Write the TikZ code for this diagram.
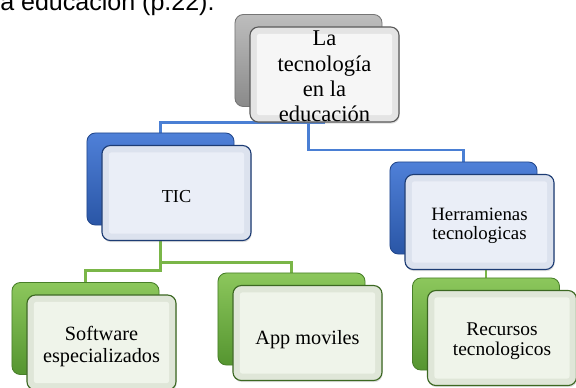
\documentclass[tikz,border=0pt]{standalone}
\usepackage{fontspec}
\setmainfont{Liberation Serif}
\newfontfamily\captionfont{Liberation Sans}
\usepackage{tikz}
\usetikzlibrary{backgrounds,shadows}

\definecolor{grayhi}{HTML}{BDBDBD}
\definecolor{graylo}{HTML}{8A8A8A}
\definecolor{bluehi}{HTML}{4F80D8}
\definecolor{bluelo}{HTML}{2A56A6}
\definecolor{greenhi}{HTML}{8CC75C}
\definecolor{greenlo}{HTML}{559530}
\definecolor{bluewire}{HTML}{4A7FD4}
\definecolor{greenwire}{HTML}{7AB648}
\definecolor{grayband}{HTML}{E4E4E4}
\definecolor{grayface}{HTML}{F6F6F6}
\definecolor{blueband}{HTML}{DCE2EE}
\definecolor{blueface}{HTML}{EAEEF7}
\definecolor{greenband}{HTML}{DFE6D8}
\definecolor{greenface}{HTML}{EFF4EA}

\begin{document}
\begin{tikzpicture}[x=0.025cm, y=-0.025cm,
  backbox/.style 2 args={rounded corners=6pt, minimum width=3.675cm, minimum height=2.3cm,
    top color=#1, bottom color=#2, draw=#2!85!black, line width=0.6pt},
  frontbox/.style n args={3}{rounded corners=6pt, minimum width=3.725cm, minimum height=2.375cm,
    inner sep=0pt, fill=#1, draw=#3, line width=0.8pt,
    drop shadow={opacity=0.25, shadow xshift=0.5pt, shadow yshift=-1.2pt},
    path picture={\fill[#2, rounded corners=2pt]
      ([shift={(0.17cm,-0.17cm)}]path picture bounding box.north west) rectangle
      ([shift={(-0.17cm,0.17cm)}]path picture bounding box.south east);}},
  grayback/.style={backbox={grayhi}{graylo}},
  blueback/.style={backbox={bluehi}{bluelo}},
  greenback/.style={backbox={greenhi}{greenlo}},
  grayfront/.style={frontbox={grayband}{grayface}{gray!70!black}},
  bluefront/.style={frontbox={blueband}{blueface}{bluelo!70!black}},
  greenfront/.style={frontbox={greenband}{greenface}{greenlo!70!black}},
  boxtext/.style={align=center, inner sep=0pt},
  bluelink/.style={draw=bluewire, line width=1.8pt},
  greenlink/.style={draw=greenwire, line width=1.8pt},
]
  \path[use as bounding box, clip] (0,0) rectangle (576,387);

  \node[anchor=base west, inner sep=0pt, font=\captionfont\fontsize{17.8}{20}\selectfont] (caption) at (0,11) {a educación (p.22).};

  % root
  \node[grayback] (root-b) at (308.5,60.5) {};
  \node[grayfront] (root) at ([shift={(16,14)}]root-b) {};
  \node[boxtext, font=\fontsize{16}{18}\selectfont] (root-t) at ([shift={(0,2)}]root) {La\\tecnología\\en la\\educación};

  % second level
  \node[blueback] (tic-b) at (160.5,179) {};
  \node[bluefront] (tic) at ([shift={(16,14)}]tic-b) {};
  \node[boxtext, font=\fontsize{13}{15}\selectfont] (tic-t) at ([shift={(0,4)}]tic) {TIC};
  \node[blueback] (herr-b) at (463.5,208) {};
  \node[bluefront] (herr) at ([shift={(16,14)}]herr-b) {};
  \node[boxtext, font=\fontsize{13.4}{13.8}\selectfont] (herr-t) at ([shift={(0,4)}]herr) {Herramienas\\tecnologicas};

  % third level
  \node[greenback] (soft-b) at (85.5,328.5) {};
  \node[greenfront] (soft) at ([shift={(16,14)}]soft-b) {};
  \node[boxtext, font=\fontsize{14.4}{16.3}\selectfont] (soft-t) at ([shift={(0,4)}]soft) {Software\\especializados};
  \node[greenback] (app-b) at (291.5,319) {};
  \node[greenfront] (app) at ([shift={(16,14)}]app-b) {};
  \node[boxtext, font=\fontsize{14.4}{16}\selectfont] (app-t) at ([shift={(0,7)}]app) {App moviles};
  \node[greenback] (rec-b) at (486,324) {};
  \node[greenfront] (rec) at ([shift={(16,14)}]rec-b) {};
  \node[boxtext, font=\fontsize{13.8}{14.4}\selectfont] (rec-t) at ([shift={(0,3)}]rec) {Recursos\\tecnologicos};

  \begin{scope}[on background layer]
    \draw[bluelink] (tic-b.north) |- (root.south);
    \draw[bluelink] (root-b.south) -- ++(0,43) -| (herr-b.north);
    \draw[greenlink] (tic-b.south) -- ++(0,37) -| (app-b.north);
    \draw[greenlink] (tic-b.south) -- ++(0,45) -| (soft-b.north);
    \draw[greenlink] (herr.south -| rec-b.north) -- (rec-b.north);
  \end{scope}
\end{tikzpicture}
\end{document}
